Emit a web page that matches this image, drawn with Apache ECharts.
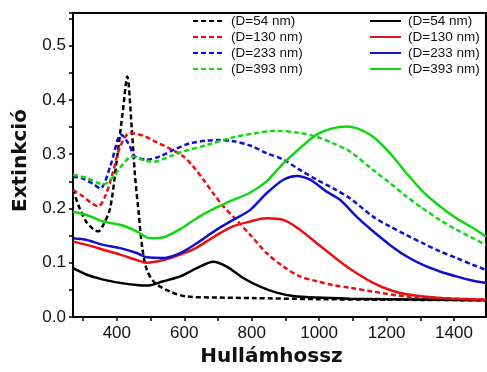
<!DOCTYPE html>
<html>
<head>
<meta charset="utf-8">
<script src="https://cdn.jsdelivr.net/npm/echarts@6/dist/echarts.min.js"></script>
<style>
  html, body { margin: 0; padding: 0; background: #fff; }
  #chart { width: 487px; height: 372px; }
</style>
</head>
<body>
<div id="chart"></div>
<script>
// Extinction spectra of particles of four diameters; dashed and solid curve families.
const wlDash54  = [270, 290, 310, 330, 345, 360, 380, 400, 418, 431, 444, 454, 464, 475, 489, 513, 558, 607, 700, 800, 1000, 1200, 1495];
const extDash54 = [0.235, 0.20, 0.175, 0.162, 0.158, 0.17, 0.20, 0.29, 0.38, 0.443, 0.35, 0.26, 0.197, 0.13, 0.087, 0.063, 0.047, 0.038, 0.036, 0.035, 0.033, 0.032, 0.031];

const wlDash130  = [270, 300, 325, 345, 365, 385, 410, 439, 479, 518, 558, 597, 627, 657, 686, 716, 755, 795, 844, 894, 943, 993, 1042, 1091, 1160, 1259, 1358, 1495];
const extDash130 = [0.234, 0.222, 0.21, 0.204, 0.222, 0.259, 0.314, 0.339, 0.334, 0.322, 0.31, 0.296, 0.277, 0.253, 0.228, 0.204, 0.179, 0.152, 0.118, 0.093, 0.075, 0.066, 0.059, 0.054, 0.047, 0.038, 0.035, 0.032];

const wlDash233  = [270, 300, 330, 351, 380, 405, 412, 434, 454, 489, 528, 568, 617, 667, 700, 745, 795, 844, 894, 943, 993, 1042, 1091, 1160, 1210, 1259, 1308, 1358, 1407, 1457, 1495];
const extDash233 = [0.259, 0.255, 0.245, 0.237, 0.277, 0.332, 0.336, 0.32, 0.296, 0.29, 0.296, 0.308, 0.32, 0.325, 0.326, 0.324, 0.316, 0.302, 0.29, 0.271, 0.253, 0.237, 0.219, 0.185, 0.167, 0.151, 0.136, 0.121, 0.109, 0.096, 0.087];

const wlDash393  = [270, 311, 340, 360, 390, 420, 444, 479, 509, 558, 597, 667, 745, 815, 870, 943, 993, 1042, 1091, 1160, 1210, 1259, 1308, 1358, 1407, 1457, 1495];
const extDash393 = [0.262, 0.256, 0.248, 0.244, 0.259, 0.283, 0.296, 0.289, 0.286, 0.296, 0.305, 0.317, 0.331, 0.339, 0.343, 0.339, 0.332, 0.32, 0.305, 0.271, 0.247, 0.222, 0.2, 0.179, 0.161, 0.145, 0.133];

const wlSolid54  = [270, 311, 360, 410, 459, 489, 538, 588, 637, 686, 726, 775, 825, 874, 923, 993, 1091, 1200, 1350, 1495];
const extSolid54 = [0.09, 0.078, 0.069, 0.063, 0.059, 0.058, 0.066, 0.075, 0.09, 0.102, 0.093, 0.072, 0.056, 0.045, 0.039, 0.036, 0.034, 0.033, 0.032, 0.031];

const wlSolid130  = [270, 311, 360, 410, 459, 489, 538, 588, 637, 696, 745, 795, 844, 894, 943, 993, 1042, 1091, 1160, 1210, 1259, 1358, 1495];
const extSolid130 = [0.139, 0.133, 0.124, 0.115, 0.105, 0.1, 0.105, 0.115, 0.128, 0.151, 0.167, 0.176, 0.182, 0.179, 0.161, 0.136, 0.112, 0.089, 0.063, 0.05, 0.042, 0.035, 0.032];

const wlSolid233  = [270, 311, 360, 410, 459, 489, 538, 588, 637, 696, 745, 795, 844, 894, 933, 973, 1022, 1062, 1111, 1160, 1210, 1259, 1308, 1358, 1407, 1457, 1495];
const extSolid233 = [0.145, 0.142, 0.133, 0.127, 0.118, 0.11, 0.109, 0.118, 0.136, 0.161, 0.179, 0.197, 0.228, 0.253, 0.26, 0.253, 0.231, 0.216, 0.185, 0.158, 0.133, 0.112, 0.096, 0.084, 0.075, 0.067, 0.063];

const wlSolid393  = [270, 311, 360, 410, 459, 499, 538, 588, 647, 696, 745, 795, 844, 894, 943, 993, 1042, 1081, 1111, 1160, 1210, 1259, 1308, 1358, 1407, 1457, 1495];
const extSolid393 = [0.194, 0.188, 0.176, 0.17, 0.158, 0.145, 0.147, 0.162, 0.186, 0.202, 0.216, 0.229, 0.25, 0.283, 0.311, 0.336, 0.348, 0.351, 0.348, 0.332, 0.302, 0.265, 0.231, 0.204, 0.182, 0.164, 0.148];

const diameterLabels = ['(D=54 nm)', '(D=130 nm)', '(D=233 nm)', '(D=393 nm)'];
const colors = ['#000000', '#e81010', '#1010d0', '#10d810'];

const dashedSets = [[wlDash54, extDash54], [wlDash130, extDash130], [wlDash233, extDash233], [wlDash393, extDash393]];
const solidSets  = [[wlSolid54, extSolid54], [wlSolid130, extSolid130], [wlSolid233, extSolid233], [wlSolid393, extSolid393]];

const pairs = (xs, ys) => xs.map((x, i) => [x, ys[i]]);

function makeSeries(sets, kind) {
  return sets.map((s, i) => ({
    name: kind + ' ' + diameterLabels[i],
    type: 'line',
    data: pairs(s[0], s[1]),
    symbol: 'none',
    smooth: 0.3,
    clip: true,
    color: colors[i],
    lineStyle: {
      color: colors[i],
      width: 2.5,
      type: kind === 'dashed' ? [5, 3] : 'solid'
    },
    z: kind === 'dashed' ? 2 : 3
  }));
}

const series = makeSeries(dashedSets, 'dashed').concat(makeSeries(solidSets, 'solid'));

// Legend rows show only the line sample, no marker
const legendBase = {
  orient: 'vertical',
  top: 13,
  itemWidth: 31,
  itemHeight: 14,
  itemGap: 0,
  padding: 0,
  itemStyle: { opacity: 0 },
  formatter: name => name.slice(name.indexOf(' ') + 1),
  textStyle: { fontFamily: 'Liberation Sans', fontSize: 13.5, color: '#111', lineHeight: 16, padding: [0, 0, 0, 2] }
};

const chart = echarts.init(document.getElementById('chart'), null, { renderer: 'canvas' });
chart.setOption({
  animation: false,
  backgroundColor: '#fff',
  grid: {
    left: 73, right: 1, top: 13, bottom: 54.7,
    show: true, borderColor: '#000', borderWidth: 2
  },
  legend: [
    Object.assign({}, legendBase, { left: 192, data: diameterLabels.map(d => 'dashed ' + d) }),
    Object.assign({}, legendBase, { left: 369, data: diameterLabels.map(d => 'solid ' + d) })
  ],
  xAxis: {
    type: 'value',
    min: 270,
    max: 1495,
    splitNumber: 12,
    name: 'Hullámhossz',
    nameLocation: 'middle',
    nameGap: 29,
    nameTextStyle: { fontFamily: 'DejaVu Sans', fontWeight: 'bold', fontSize: 20, color: '#111', padding: [0, 16, 0, 0] },
    axisLine: { show: true, onZero: false, lineStyle: { color: '#000', width: 2 } },
    axisTick: { show: true, inside: false, length: 4, lineStyle: { color: '#000', width: 1.5 } },
    axisLabel: {
      margin: 8,
      fontFamily: 'Liberation Sans', fontSize: 17, color: '#111',
      showMinLabel: false, showMaxLabel: false,
      formatter: v => (Math.round(v) % 200 === 0 ? String(Math.round(v)) : '')
    },
    splitLine: { show: false }
  },
  yAxis: {
    type: 'value',
    min: 0,
    max: 0.56,
    interval: 0.05,
    name: 'Extinkció',
    nameLocation: 'middle',
    nameGap: 42,
    nameTextStyle: { fontFamily: 'DejaVu Sans', fontWeight: 'bold', fontSize: 20, color: '#111', padding: [0, 0, 0, 9] },
    axisLine: { show: true, onZero: false, lineStyle: { color: '#000', width: 2 } },
    axisTick: { show: true, inside: false, length: 4, lineStyle: { color: '#000', width: 1.5 } },
    axisLabel: {
      margin: 7,
      fontFamily: 'Liberation Sans', fontSize: 17, color: '#111',
      formatter: v => {
        const t = v * 10;
        return Math.abs(t - Math.round(t)) < 1e-6 ? v.toFixed(1) : '';
      }
    },
    splitLine: { show: false }
  },
  series: series
});
</script>
</body>
</html>
